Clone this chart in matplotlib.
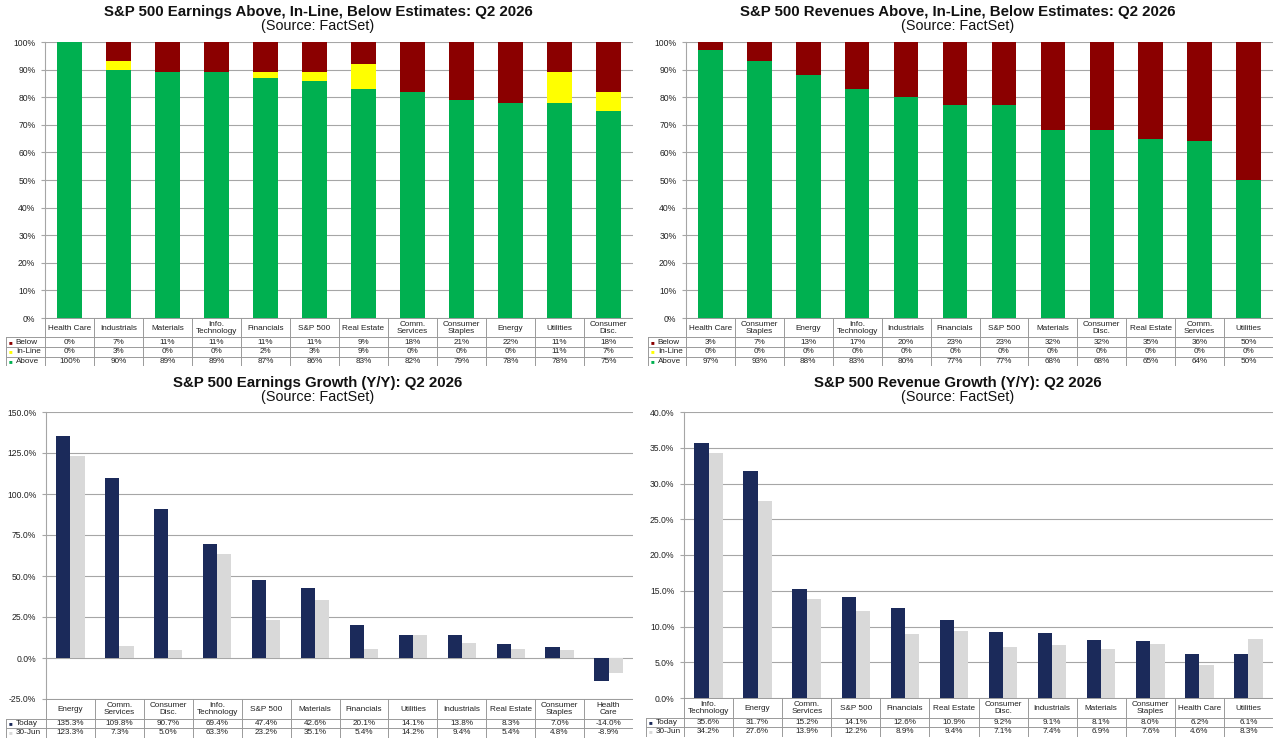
"""Four-panel FactSet Q2 2026 scorecard: beat/miss mix and growth by sector."""
import matplotlib

matplotlib.use("Agg")
import matplotlib.pyplot as plt
import numpy as np

plt.rcParams["font.family"] = ["Liberation Sans", "DejaVu Sans"]

# ---- data -----------------------------------------------------------------
eps_cats = ["Health Care", "Industrials", "Materials", "Info.\nTechnology", "Financials",
            "S&P 500", "Real Estate", "Comm.\nServices", "Consumer\nStaples", "Energy",
            "Utilities", "Consumer\nDisc."]
eps_below = [0, 7, 11, 11, 11, 11, 9, 18, 21, 22, 11, 18]
eps_inline = [0, 3, 0, 0, 2, 3, 9, 0, 0, 0, 11, 7]
eps_above = [100, 90, 89, 89, 87, 86, 83, 82, 79, 78, 78, 75]

rev_cats = ["Health Care", "Consumer\nStaples", "Energy", "Info.\nTechnology", "Industrials",
            "Financials", "S&P 500", "Materials", "Consumer\nDisc.", "Real Estate",
            "Comm.\nServices", "Utilities"]
rev_below = [3, 7, 13, 17, 20, 23, 23, 32, 32, 35, 36, 50]
rev_inline = [0, 0, 0, 0, 0, 0, 0, 0, 0, 0, 0, 0]
rev_above = [97, 93, 88, 83, 80, 77, 77, 68, 68, 65, 64, 50]

epsg_cats = ["Energy", "Comm.\nServices", "Consumer\nDisc.", "Info.\nTechnology", "S&P 500",
             "Materials", "Financials", "Utilities", "Industrials", "Real Estate",
             "Consumer\nStaples", "Health\nCare"]
epsg_today = [135.3, 109.8, 90.7, 69.4, 47.4, 42.6, 20.1, 14.1, 13.8, 8.3, 7.0, -14.0]
epsg_jun = [123.3, 7.3, 5.0, 63.3, 23.2, 35.1, 5.4, 14.2, 9.4, 5.4, 4.8, -8.9]

revg_cats = ["Info.\nTechnology", "Energy", "Comm.\nServices", "S&P 500", "Financials",
             "Real Estate", "Consumer\nDisc.", "Industrials", "Materials", "Consumer\nStaples",
             "Health Care", "Utilities"]
revg_today = [35.6, 31.7, 15.2, 14.1, 12.6, 10.9, 9.2, 9.1, 8.1, 8.0, 6.2, 6.1]
revg_jun = [34.2, 27.6, 13.9, 12.2, 8.9, 9.4, 7.1, 7.4, 6.9, 7.6, 4.6, 8.3]

# ---- style ----------------------------------------------------------------
GREEN, YELLOW, RED = "#00B050", "#FFFF00", "#8B0000"
NAVY, LGRAY = "#1B2A5A", "#D9D9D9"
GRID = "#A6A6A6"
TXT = "#222222"
FS = 5.9

W, H = 1280, 746
fig = plt.figure(figsize=(W / 100, H / 100), dpi=100)


def px_axes(x0, y0, x1, y1):
    return fig.add_axes([x0 / W, 1 - y1 / H, (x1 - x0) / W, (y1 - y0) / H])


def style_plot(ax, n, lo, hi, step, fmt):
    ax.set_xlim(-0.5, n - 0.5)
    ax.set_ylim(lo, hi)
    ticks = np.arange(lo, hi + step / 2, step)
    ax.set_yticks(ticks)
    ax.set_yticklabels([fmt.format(t) for t in ticks], fontsize=FS + 0.3, color=TXT)
    ax.set_xticks([])
    ax.grid(axis="y", color=GRID, linewidth=0.8)
    ax.set_axisbelow(True)
    for s in ["top", "right", "bottom"]:
        ax.spines[s].set_visible(False)
    ax.spines["left"].set_color(GRID)
    ax.tick_params(axis="y", length=3, color=GRID, pad=4)


def titles(cx, y, title):
    fig.text(cx / W, 1 - y / H, title, ha="center", va="center",
             fontsize=10.8, fontweight="bold", color="#111111")
    fig.text(cx / W, 1 - (y + 14) / H, "(Source: FactSet)", ha="center", va="center",
             fontsize=10.4, color="#111111")


def data_table(x0, x1, hx0, top, cat_h, row_h, cats, rows, labels, marks):
    n = len(cats)
    colw = (x1 - x0) / n
    total = cat_h + row_h * len(rows)
    ax = px_axes(hx0, top, x1, top + total)
    ax.set_xlim(-0.5 - (x0 - hx0) / colw, n - 0.5)
    ax.set_ylim(total, 0)
    ax.axis("off")
    left = -0.5 - (x0 - hx0) / colw
    lc = dict(color="#9A9A9A", linewidth=0.7)
    # category header row
    ax.plot([-0.5, n - 0.5], [0, 0], **lc)
    for i in range(n + 1):
        ax.plot([i - 0.5, i - 0.5], [0, total], **lc)
    ax.plot([left, left], [cat_h, total], **lc)
    for r in range(len(rows) + 1):
        ax.plot([left, n - 0.5], [cat_h + r * row_h] * 2, **lc)
    for i, c in enumerate(cats):
        ax.text(i, cat_h / 2 + 0.5, c, ha="center", va="center", fontsize=FS,
                color=TXT, linespacing=0.95)
    for r, (vals, lab, mk) in enumerate(zip(rows, labels, marks)):
        yc = cat_h + (r + 0.5) * row_h
        ax.text(left + 0.06, yc, "\u25a0", ha="left", va="center", fontsize=FS - 1.5, color=mk)
        ax.text(left + 0.2, yc, lab, ha="left", va="center", fontsize=FS, color=TXT)
        for i, v in enumerate(vals):
            ax.text(i, yc, v, ha="center", va="center", fontsize=FS, color=TXT)


def stacked_panel(x0, x1, hx0, cx, cats, below, inline, above, title):
    titles(cx, 12, title)
    ax = px_axes(x0, 42, x1, 318)
    x = np.arange(len(cats))
    a, m, b = np.array(above), np.array(inline), np.array(below)
    ax.bar(x, a, 0.5, color=GREEN, zorder=2)
    ax.bar(x, m, 0.5, bottom=a, color=YELLOW, zorder=2)
    ax.bar(x, b, 0.5, bottom=a + m, color=RED, zorder=2)
    style_plot(ax, len(cats), 0, 100, 10, "{:.0f}%")
    rows = [[f"{v}%" for v in below], [f"{v}%" for v in inline], [f"{v}%" for v in above]]
    data_table(x0, x1, hx0, 318, 19.5, 9.5, cats, rows,
               ["Below", "In-Line", "Above"], [RED, YELLOW, GREEN])


def growth_panel(x0, x1, hx0, cx, y_bot, cats, today, jun, lo, hi, step, title):
    titles(cx, 383, title)
    ax = px_axes(x0, 412, x1, y_bot)
    x = np.arange(len(cats))
    ax.bar(x - 0.145, today, 0.29, color=NAVY, zorder=2)
    ax.bar(x + 0.145, jun, 0.29, color=LGRAY, zorder=2)
    style_plot(ax, len(cats), lo, hi, step, "{:.1f}%")
    rows = [[f"{v:.1f}%" for v in today], [f"{v:.1f}%" for v in jun]]
    data_table(x0, x1, hx0, y_bot, 19.5, 9.5, cats, rows,
               ["Today", "30-Jun"], [NAVY, LGRAY])


stacked_panel(45, 633, 6, 318, eps_cats, eps_below, eps_inline, eps_above,
              "S&P 500 Earnings Above, In-Line, Below Estimates: Q2 2026")
stacked_panel(686, 1273, 648, 958, rev_cats, rev_below, rev_inline, rev_above,
              "S&P 500 Revenues Above, In-Line, Below Estimates: Q2 2026")
growth_panel(46, 633, 6, 318, 699, epsg_cats, epsg_today, epsg_jun, -25, 150, 25,
             "S&P 500 Earnings Growth (Y/Y): Q2 2026")
growth_panel(684, 1273, 646, 958, 698, revg_cats, revg_today, revg_jun, 0, 40, 5,
             "S&P 500 Revenue Growth (Y/Y): Q2 2026")

fig.savefig("out.png", dpi=100)
